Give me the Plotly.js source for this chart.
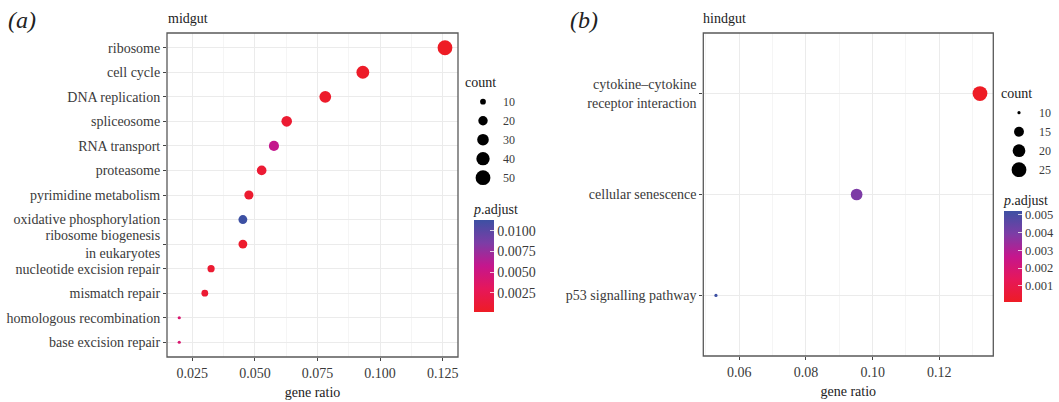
<!DOCTYPE html>
<html>
<head>
<meta charset="utf-8">
<script src="https://cdn.plot.ly/plotly-3.0.1.min.js"></script>
<style>html,body{margin:0;padding:0;background:#fff;}#chart{width:1059px;height:402px;}</style>
</head>
<body>
<div id="chart"></div>
<script>
// ---- Panel (a): midgut ----
const midgutTerms = ["ribosome","cell cycle","DNA replication","spliceosome","RNA transport","proteasome",
  "pyrimidine metabolism","oxidative phosphorylation","ribosome biogenesis<br>in eukaryotes",
  "nucleotide excision repair","mismatch repair","homologous recombination","base excision repair"];
const midgutRatio = [0.1259,0.0931,0.0781,0.0627,0.0576,0.0527,0.0476,0.0452,0.0452,0.0325,0.0300,0.0198,0.0198];
const midgutCount = [50,37,31,25,23,21,19,18,18,13,12,8,8];
const midgutPadj  = [0.0002,0.0004,0.0005,0.0009,0.0058,0.0010,0.0008,0.0113,0.0006,0.0009,0.0010,0.0041,0.0041];
const midgutCountBreaks = [10,20,30,40,50];
const midgutPTicks = [0.0025,0.0050,0.0075,0.0100];

// ---- Panel (b): hindgut ----
const hindgutTerms = ["cytokine\u2013cytokine<br>receptor interaction","cellular senescence","p53 signalling pathway"];
const hindgutRatio = [0.1322,0.0952,0.0530];
const hindgutCount = [25,18,10];
const hindgutPadj  = [0.0001,0.0039,0.0052];
const hindgutCountBreaks = [10,15,20,25];
const hindgutPTicks = [0.001,0.002,0.003,0.004,0.005];

const FONT = "Liberation Serif, Times New Roman, serif";
const pScale = [[0,'#EE1C25'],[0.25,'#E6175A'],[0.5,'#C5168D'],[0.75,'#7C3DA6'],[1,'#3D50A3']];
const W = 1059, H = 402;

function sizer(counts){
  const lo = Math.min(...counts), hi = Math.max(...counts);
  return c => 3.2 + 11.6*Math.sqrt(Math.max(0,(c-lo))/(hi-lo));
}
const sizeA = sizer(midgutCount), sizeB = sizer(hindgutCount);

function cbar(xpx, toppx, lenpx, thick, ticks, fmt, fsize){
  return {x:xpx/W, xanchor:'left', y:1-toppx/H, yanchor:'top', lenmode:'pixels', len:lenpx,
    thickness:thick, thicknessmode:'pixels', xpad:0, ypad:0, outlinewidth:0,
    tickvals: ticks, tickformat: fmt, ticks:'inside', ticklen:4, tickcolor:'rgba(255,255,255,0.75)',
    tickfont:{family:FONT,size:fsize,color:'#3a3a3a'},
    title:{text:'<i>p</i>.adjust', side:'top', font:{family:FONT,size:14,color:'#222'}}};
}

const traces = [];
traces.push({
  type:'scatter', mode:'markers', xaxis:'x', yaxis:'y', showlegend:false,
  x: midgutRatio, y: midgutTerms,
  marker:{size: midgutCount.map(sizeA), color: midgutPadj, colorscale: pScale,
    cmin: Math.min(...midgutPadj), cmax: Math.max(...midgutPadj), line:{width:0}, opacity:1,
    colorbar: cbar(474, 200, 112, 20, midgutPTicks, '.4f', 14)}
});
traces.push({
  type:'scatter', mode:'markers', xaxis:'x2', yaxis:'y2', showlegend:false,
  x: hindgutRatio, y: hindgutTerms,
  marker:{size: hindgutCount.map(sizeB), color: hindgutPadj, colorscale: pScale,
    cmin: Math.min(...hindgutPadj), cmax: Math.max(...hindgutPadj), line:{width:0}, opacity:1,
    colorbar: cbar(1004, 191, 111, 18, hindgutPTicks, '.3f', 12.5)}
});
midgutCountBreaks.forEach(c => traces.push({
  type:'scatter', mode:'markers', xaxis:'x', yaxis:'y', x:[null], y:[null], name:String(c),
  legend:'legend', showlegend:true, marker:{size:sizeA(c), color:'#000'}
}));
hindgutCountBreaks.forEach(c => traces.push({
  type:'scatter', mode:'markers', xaxis:'x2', yaxis:'y2', x:[null], y:[null], name:String(c),
  legend:'legend2', showlegend:true, marker:{size:sizeB(c), color:'#000'}
}));

const axisCommon = {
  showline:false, ticks:'outside', ticklen:3, tickwidth:1, tickcolor:'#444',
  showgrid:true, gridcolor:'#EBEBEB', gridwidth:1, zeroline:false,
  tickfont:{family:FONT,size:14,color:'#3a3a3a'}
};
const legendCommon = {
  font:{family:FONT,size:12,color:'#3a3a3a'}, bgcolor:'rgba(0,0,0,0)',
  xanchor:'left', yanchor:'top', itemwidth:30, tracegroupgap:0,
  title:{text:'count', font:{family:FONT,size:14,color:'#222'}}
};
const frame = (xr, yr) => ({type:'rect', xref:xr+' domain', yref:yr+' domain', x0:0, x1:1, y0:0, y1:1,
  line:{color:'#595959', width:1.3}, fillcolor:'rgba(0,0,0,0)', layer:'above'});

const layout = {
  width:W, height:H, margin:{l:0,r:0,t:0,b:0, autoexpand:false},
  paper_bgcolor:'#fff', plot_bgcolor:'#fff',
  font:{family:FONT,size:14,color:'#333'},
  xaxis: Object.assign({}, axisCommon, {domain:[167/W,458/W], anchor:'y', range:[0.0149,0.1311],
    tickvals:[0.025,0.05,0.075,0.1,0.125], ticktext:['0.025','0.050','0.075','0.100','0.125'],
    minor:{dtick:0.0125, tick0:0.0125, showgrid:true, gridcolor:'#F3F3F3', gridwidth:0.8, ticks:''},
    title:{text:'gene ratio', standoff:7, font:{family:FONT,size:14,color:'#222'}}}),
  yaxis: Object.assign({}, axisCommon, {domain:[1-357/H,1-33/H], anchor:'x', type:'category',
    categoryorder:'array', categoryarray: midgutTerms.slice().reverse(), range:[-0.6,12.6]}),
  xaxis2: Object.assign({}, axisCommon, {domain:[703.3/W,993.3/W], anchor:'y2', range:[0.0492,0.1362],
    tickvals:[0.06,0.08,0.10,0.12], ticktext:['0.06','0.08','0.10','0.12'],
    minor:{dtick:0.01, tick0:0.05, showgrid:true, gridcolor:'#F3F3F3', gridwidth:0.8, ticks:''},
    title:{text:'gene ratio', standoff:7, font:{family:FONT,size:14,color:'#222'}}}),
  yaxis2: Object.assign({}, axisCommon, {domain:[1-356/H,1-33/H], anchor:'x2', type:'category',
    categoryorder:'array', categoryarray: hindgutTerms.slice().reverse(), range:[-0.6,2.6]}),
  legend: Object.assign({}, legendCommon, {x:463/W, y:1-69/H}),
  legend2: Object.assign({}, legendCommon, {x:999/W, y:1-80/H}),
  shapes:[frame('x','y'), frame('x2','y2')],
  annotations:[
    {text:'<i>(a)</i>', xref:'paper', yref:'paper', x:6/W, y:1-20/H, xanchor:'left', yanchor:'middle',
     showarrow:false, font:{family:FONT,size:24,color:'#222'}},
    {text:'<i>(b)</i>', xref:'paper', yref:'paper', x:568/W, y:1-20/H, xanchor:'left', yanchor:'middle',
     showarrow:false, font:{family:FONT,size:24,color:'#222'}},
    {text:'midgut', xref:'paper', yref:'paper', x:166/W, y:1-18/H, xanchor:'left', yanchor:'middle',
     showarrow:false, font:{family:FONT,size:14,color:'#222'}},
    {text:'hindgut', xref:'paper', yref:'paper', x:701/W, y:1-18/H, xanchor:'left', yanchor:'middle',
     showarrow:false, font:{family:FONT,size:14,color:'#222'}}
  ]
};

Plotly.newPlot('chart', traces, layout, {displayModeBar:false, staticPlot:true});
</script>
</body>
</html>
